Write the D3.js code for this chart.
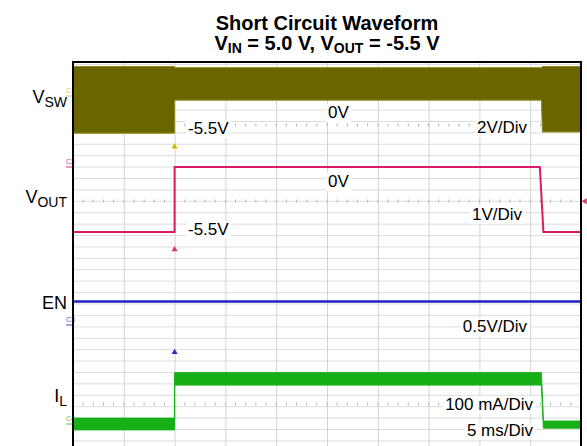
<!DOCTYPE html>
<html lang="en">
<head>
    <meta charset="UTF-8">
    <title>Short Circuit Waveform</title>
    <script src="https://cdn.jsdelivr.net/npm/d3@7"></script>
    <style>
        body { margin: 0; background: #fff; }
        text { font-family: "Liberation Sans", Arial, sans-serif; }
    </style>
</head>
<body>
<svg></svg>
<script>
    // time axis: 10 div x 5 ms
    var timeTicks = [0, 5, 10, 15, 20, 25, 30, 35, 40, 45, 50]

    // V_SW switching band (envelope, volts)
    var vswTime = [0, 10, 10, 46.1, 46.2, 50]
    var vswMax  = [5.0, 5.0, 4.8, 4.8, 5.0, 5.0]
    var vswMin  = [-6.3, -6.3, -0.7, -0.7, -6.1, -6.1]

    // V_OUT (volts)
    var voutTime = [0, 10, 10, 45.95, 46.3, 50]
    var voutV    = [-5.5, -5.5, 0, 0, -5.5, -5.5]

    // EN (volts)
    var enTime = [0, 50]
    var enV    = [1.0, 1.0]

    // I_L ripple band (mA)
    var ilTime = [0, 10, 10, 46.1, 46.3, 50]
    var ilMax  = [50, 50, 435, 435, 25, 25]
    var ilMin  = [-50, -50, 330, 330, -35, -35]

    var channelNames = [["V", "SW"], ["V", "OUT"], ["EN", ""], ["I", "L"]]
    var levelLabels = ["0V", "-5.5V", "0V", "-5.5V"]
    var scaleLabels = ["2V/Div", "1V/Div", "0.5V/Div", "100 mA/Div", "5 ms/Div"]

    var svg = d3.select("svg")
                .attr("width", 587)
                .attr("height", 446)

    var pLeft = 73, pRight = 581, pTop = 62, pBottom = 446
    var div = 11.8

    var x = d3.scaleLinear().domain([0, 50]).range([pLeft, pRight])

    // each channel has its own ground position and volts (or mA) per div
    var yVsw  = d3.scaleLinear().domain([0, 2]).range([96, 96 - div])
    var yVout = d3.scaleLinear().domain([0, 1]).range([167, 167 - div])
    var yEn   = d3.scaleLinear().domain([0, 0.5]).range([325, 325 - div])
    var yIl   = d3.scaleLinear().domain([0, 100]).range([424, 424 - div])

    // title
    var title = svg.append("text")
        .attr("x", 327).attr("text-anchor", "middle")
        .attr("font-weight", "bold").attr("font-size", 20)
    title.append("tspan").attr("x", 327).attr("y", 30).text("Short Circuit Waveform")
    var t2 = title.append("tspan").attr("x", 327).attr("y", 50)
    t2.append("tspan").text("V")
    t2.append("tspan").attr("font-size", 14).attr("dy", 3).text("IN")
    t2.append("tspan").attr("dy", -3).text(" = 5.0 V, V")
    t2.append("tspan").attr("font-size", 14).attr("dy", 3).text("OUT")
    t2.append("tspan").attr("dy", -3).text(" = -5.5 V")

    // grid
    var grid = svg.append("g")
    grid.selectAll("line.h")
        .data(d3.range(34))
        .join("line")
        .attr("class", "h")
        .attr("x1", pLeft).attr("x2", pRight)
        .attr("y1", d => 64.4 + d * 11.41).attr("y2", d => 64.4 + d * 11.41)
        .attr("stroke", "#dcdcdc").attr("stroke-width", 1)

    grid.append("g")
        .attr("transform", "translate(0," + pBottom + ")")
        .call(d3.axisBottom(x).tickValues(timeTicks.slice(1, -1)).tickSize(-(pBottom - pTop)).tickFormat(""))
        .call(g => g.select(".domain").remove())
        .call(g => g.selectAll("line").attr("stroke", "#d4d4d4"))

    // centre lines with small ticks
    var centreY = [125, 201, 404]
    centreY.forEach(function (cy) {
        grid.selectAll(null)
            .data(d3.range(0, 50.01, 1))
            .join("line")
            .attr("x1", d => x(d)).attr("x2", d => x(d))
            .attr("y1", cy - 1.5).attr("y2", cy + 1.5)
            .attr("stroke", "#b4b4b4")
    })

    // V_SW band
    var vswData = vswTime.map((t, i) => ({t: t, hi: vswMax[i], lo: vswMin[i]}))
    svg.append("path")
        .datum(vswData)
        .attr("d", d3.area().x(d => x(d.t)).y0(d => yVsw(d.lo)).y1(d => yVsw(d.hi)))
        .attr("fill", "#6b6500")
        .attr("stroke", "#8f8818").attr("stroke-width", 1)

    // V_OUT
    svg.append("path")
        .datum(voutTime.map((t, i) => [t, voutV[i]]))
        .attr("d", d3.line().x(d => x(d[0])).y(d => yVout(d[1])))
        .attr("fill", "none").attr("stroke", "#d81b63").attr("stroke-width", 2)

    // EN
    svg.append("path")
        .datum(enTime.map((t, i) => [t, enV[i]]))
        .attr("d", d3.line().x(d => x(d[0])).y(d => yEn(d[1])))
        .attr("fill", "none").attr("stroke", "#1f22c4").attr("stroke-width", 2.5)

    // I_L band
    var ilData = ilTime.map((t, i) => ({t: t, hi: ilMax[i], lo: ilMin[i]}))
    svg.append("path")
        .datum(ilData)
        .attr("d", d3.area().x(d => x(d.t)).y0(d => yIl(d.lo)).y1(d => yIl(d.hi)))
        .attr("fill", "#16b016")
        .attr("stroke", "#16b016").attr("stroke-width", 1)

    // trigger markers
    var tri = d3.symbol().type(d3.symbolTriangle).size(16)
    var markers = [[yVsw(-8.6), "#c9b800"], [yVout(-7.0), "#e0307a"], [yEn(-1.15), "#2a2ad0"]]
    markers.forEach(function (m) {
        svg.append("path").attr("d", tri)
            .attr("transform", "translate(" + x(10) + "," + m[0] + ")")
            .attr("fill", m[1])
    })
    svg.append("path").attr("d", tri)
        .attr("transform", "translate(585," + yVout(-2.9) + ") rotate(-90)")
        .attr("fill", "#e0307a")

    // channel tags left of the screen
    var tags = [["C1", yVsw(0), "#d8c860"], ["C2", yVout(0), "#e0307a"], ["C3", yEn(0), "#5050d8"], ["C4", yIl(0), "#50c850"]]
    tags.forEach(function (c) {
        svg.append("text").attr("x", 66).attr("y", c[1] - 3)
            .attr("font-size", 7).attr("fill", c[2]).text(c[0])
        svg.append("line").attr("x1", 66).attr("x2", 73)
            .attr("y1", c[1]).attr("y2", c[1]).attr("stroke", c[2])
    })

    // frame
    svg.append("line").attr("x1", pLeft - 1).attr("x2", pRight + 1).attr("y1", pTop).attr("y2", pTop).attr("stroke", "#000").attr("stroke-width", 2)
    svg.append("line").attr("x1", pLeft).attr("x2", pLeft).attr("y1", pTop).attr("y2", pBottom).attr("stroke", "#000").attr("stroke-width", 2)
    svg.append("line").attr("x1", pRight).attr("x2", pRight).attr("y1", pTop).attr("y2", pBottom).attr("stroke", "#000").attr("stroke-width", 2)

    // channel names
    var nameY = [103, 203, 309, 402]
    channelNames.forEach(function (n, i) {
        var t = svg.append("text").attr("x", 67).attr("y", nameY[i])
            .attr("text-anchor", "end").attr("font-size", 18)
        t.append("tspan").text(n[0])
        if (n[1]) t.append("tspan").attr("font-size", 14).attr("dy", 4).text(n[1])
    })

    // annotation labels on white boxes
    function boxLabel(txt, lx, ly, anchor) {
        var t = svg.append("text").attr("x", lx).attr("y", ly)
            .attr("font-size", 17).attr("text-anchor", anchor).text(txt)
        var b = t.node().getBBox()
        svg.insert("rect", function () { return t.node() })
            .attr("x", b.x - 2).attr("y", b.y + 1).attr("width", b.width + 4).attr("height", b.height - 1)
            .attr("fill", "#fff")
    }
    boxLabel(levelLabels[0], 328, 118, "start")
    boxLabel(levelLabels[1], 188, 134, "start")
    boxLabel(levelLabels[2], 328, 187, "start")
    boxLabel(levelLabels[3], 188, 235, "start")
    boxLabel(scaleLabels[0], 527, 133, "end")
    boxLabel(scaleLabels[1], 522, 220, "end")
    boxLabel(scaleLabels[2], 527, 332, "end")
    boxLabel(scaleLabels[3], 533, 410, "end")
    boxLabel(scaleLabels[4], 533, 436, "end")
</script>
</body>
</html>
